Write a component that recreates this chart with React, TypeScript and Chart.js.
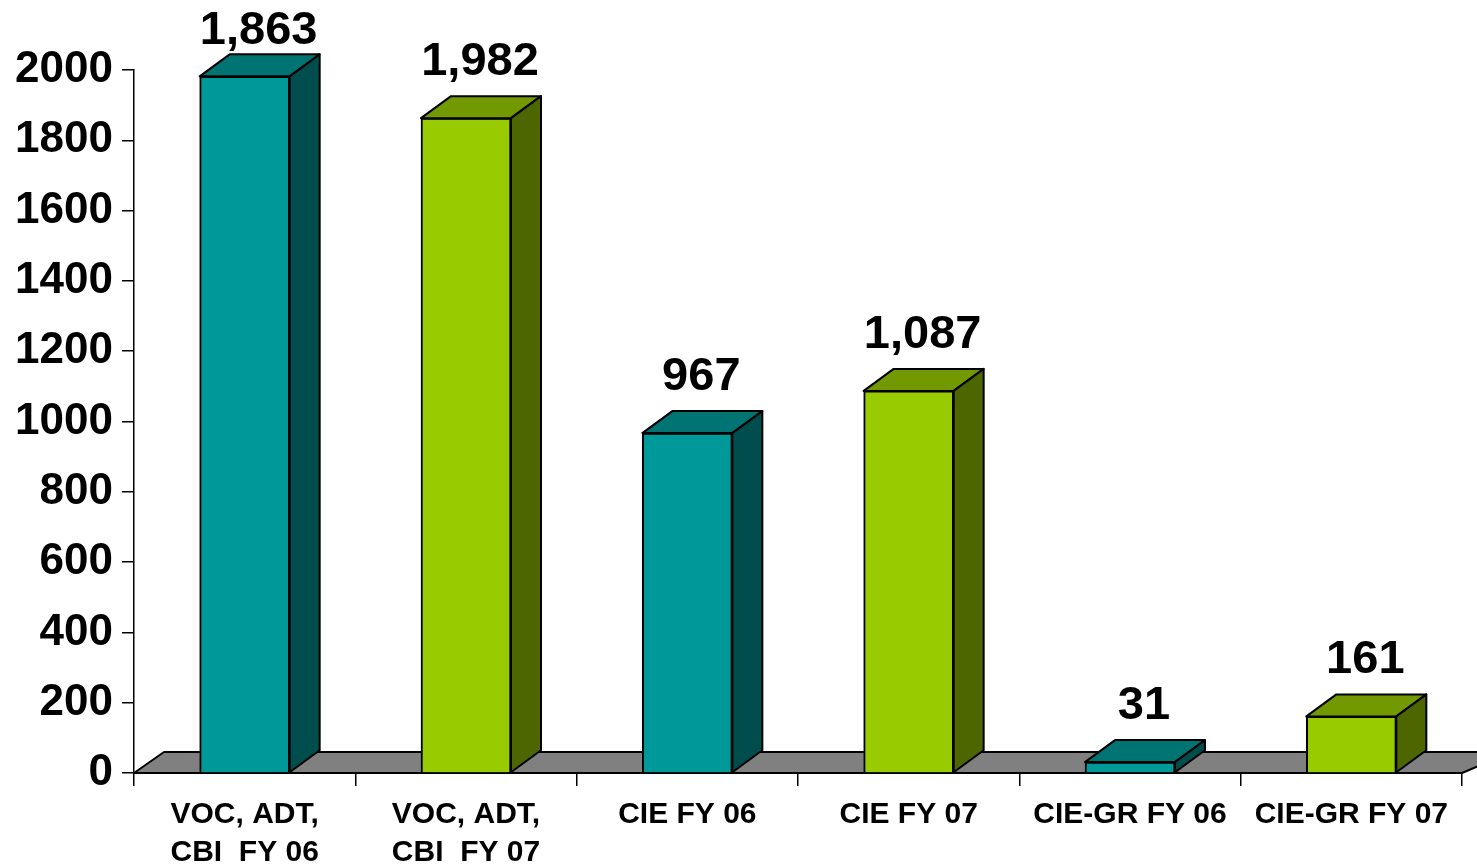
import React, { useEffect, useRef } from "react";
import { Chart, registerables } from "chart.js";

Chart.register(...registerables);

const categories: string[][] = [
  ["VOC, ADT,", "CBI  FY 06"],
  ["VOC, ADT,", "CBI  FY 07"],
  ["CIE FY 06"],
  ["CIE FY 07"],
  ["CIE-GR FY 06"],
  ["CIE-GR FY 07"],
];
const barValues: number[] = [1982, 1863, 967, 1087, 31, 161];
const dataLabels: string[] = ["1,863", "1,982", "967", "1,087", "31", "161"];
const yTicks: number[] = [0, 200, 400, 600, 800, 1000, 1200, 1400, 1600, 1800, 2000];

const FRONT = ["#009999", "#99CC00", "#009999", "#99CC00", "#009999", "#99CC00"];
const TOP = ["#007373", "#739900", "#007373", "#739900", "#007373", "#739900"];
const SIDE = ["#004D4D", "#4D6600", "#004D4D", "#4D6600", "#004D4D", "#4D6600"];

const DX = 30;
const DY = 22;
const FONT = "'Liberation Sans', Arial, sans-serif";

const poly = (ctx: CanvasRenderingContext2D, pts: number[][], fill: string) => {
  ctx.beginPath();
  ctx.moveTo(pts[0][0], pts[0][1]);
  for (let i = 1; i < pts.length; i++) ctx.lineTo(pts[i][0], pts[i][1]);
  ctx.closePath();
  ctx.fillStyle = fill;
  ctx.fill();
  ctx.lineWidth = 2;
  ctx.strokeStyle = "#000";
  ctx.lineJoin = "round";
  ctx.stroke();
};

const threeD = {
  id: "threeD",
  beforeDatasetsDraw(chart: any) {
    const { ctx, chartArea } = chart;
    const y0 = chart.scales.y.getPixelForValue(0);
    ctx.save();
    poly(
      ctx,
      [
        [chartArea.left, y0],
        [chartArea.left + DX, y0 - 21],
        [chartArea.right + DX + 20, y0 - 21],
        [chartArea.right, y0],
      ],
      "#808080"
    );
    ctx.restore();
  },
  afterDatasetsDraw(chart: any) {
    const { ctx } = chart;
    const meta = chart.getDatasetMeta(0);
    ctx.save();
    meta.data.forEach((bar: any, i: number) => {
      const { x, y, base, width } = bar.getProps(["x", "y", "base", "width"], true);
      const l = x - width / 2;
      const r = x + width / 2;
      poly(ctx, [[l, y], [l + DX, y - DY], [r + DX, y - DY], [r, y]], TOP[i]);
      poly(ctx, [[r, y], [r + DX, y - DY], [r + DX, base - DY], [r, base]], SIDE[i]);
      ctx.fillStyle = "#000";
      ctx.font = `bold 47px ${FONT}`;
      ctx.textAlign = "center";
      ctx.textBaseline = "middle";
      ctx.fillText(dataLabels[i], x + 14, Math.max(31, y - DY - 34));
    });
    ctx.restore();
  },
};

export default function App() {
  const ref = useRef<HTMLCanvasElement | null>(null);
  useEffect(() => {
    document.body.style.margin = "0";
    const chart = new Chart(ref.current as HTMLCanvasElement, {
      type: "bar",
      data: {
        labels: categories as any,
        datasets: [
          {
            data: barValues,
            backgroundColor: FRONT,
            borderColor: "#000",
            borderWidth: 2,
            barThickness: 90,
          },
        ],
      },
      options: {
        responsive: false,
        animation: false,
        layout: { padding: { top: 70, right: 15, left: 0, bottom: 0 } },
        plugins: { legend: { display: false }, tooltip: { enabled: false } },
        scales: {
          x: {
            type: "category",
            offset: true,
            grid: { offset: true, drawOnChartArea: false, tickLength: 13, color: "#000", lineWidth: 1.5 },
            border: { color: "#000", width: 1.5 },
            ticks: {
              color: "#000",
              padding: 10,
              maxRotation: 0,
              autoSkip: false,
              font: { family: FONT, size: 30, weight: "bold", lineHeight: 1.25 },
            },
            afterFit: (s: any) => {
              s.height = 95;
            },
          },
          y: {
            min: 0,
            max: 2000,
            afterBuildTicks: (s: any) => {
              s.ticks = yTicks.map((v) => ({ value: v }));
            },
            grid: { drawOnChartArea: false, tickLength: 12, color: "#000", lineWidth: 1.5 },
            border: { color: "#000", width: 1.5 },
            ticks: {
              color: "#000",
              padding: 9,
              font: { family: FONT, size: 44, weight: "bold" },
              callback: (v: any) => String(v),
            },
            afterFit: (s: any) => {
              s.width = 134;
            },
          },
        },
      },
      plugins: [threeD],
    });
    return () => chart.destroy();
  }, []);
  return (
    <div style={{ position: "absolute", left: 0, top: 0, width: 1477, height: 868, background: "#fff" }}>
      <canvas ref={ref} width={1477} height={868} />
    </div>
  );
}
